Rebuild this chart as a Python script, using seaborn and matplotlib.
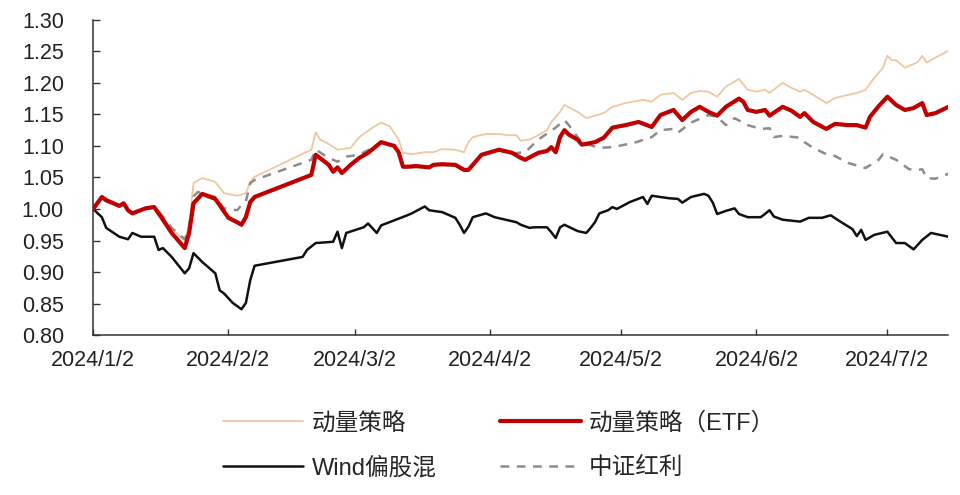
import matplotlib
matplotlib.use("Agg")
import matplotlib.pyplot as plt
import seaborn as sns
import pandas as pd

# 动量策略
momentum_dates = ["01-02", "01-04", "01-05", "01-08", "01-09", "01-10", "01-11", "01-14", "01-16", "01-18",
                  "01-20", "01-23", "01-24", "01-25", "01-27", "01-30", "02-01", "02-04", "02-06", "02-07",
                  "02-08", "02-21", "02-22", "02-23", "02-25", "02-27", "03-01", "03-03", "03-06", "03-08",
                  "03-10", "03-12", "03-13", "03-15", "03-18", "03-20", "03-22", "03-25", "03-27", "03-28",
                  "03-29", "04-01", "04-04", "04-06", "04-08", "04-09", "04-11", "04-13", "04-15", "04-16",
                  "04-18", "04-19", "04-22", "04-24", "04-26", "04-28", "04-30", "05-03", "05-07", "05-09",
                  "05-11", "05-14", "05-16", "05-18", "05-20", "05-22", "05-24", "05-26", "05-29", "05-31",
                  "06-02", "06-04", "06-05", "06-08", "06-10", "06-12", "06-13", "06-15", "06-18", "06-20",
                  "06-23", "06-25", "06-27", "06-29", "07-01", "07-02", "07-03", "07-04", "07-06", "07-09",
                  "07-10", "07-11", "07-13", "07-16"]
momentum_vals = [1.000, 1.019, 1.014, 1.005, 1.009, 0.999, 0.995, 1.002, 1.004, 0.987,
                 0.968, 0.950, 0.975, 1.041, 1.049, 1.043, 1.025, 1.021, 1.025, 1.043,
                 1.051, 1.094, 1.122, 1.110, 1.103, 1.094, 1.097, 1.114, 1.129, 1.137,
                 1.131, 1.110, 1.089, 1.087, 1.090, 1.090, 1.095, 1.094, 1.090, 1.106,
                 1.114, 1.119, 1.119, 1.117, 1.117, 1.108, 1.110, 1.117, 1.125, 1.138,
                 1.154, 1.165, 1.154, 1.144, 1.148, 1.152, 1.162, 1.168, 1.173, 1.170,
                 1.181, 1.184, 1.173, 1.184, 1.187, 1.186, 1.178, 1.194, 1.206, 1.189,
                 1.186, 1.189, 1.184, 1.200, 1.192, 1.186, 1.189, 1.181, 1.168, 1.176,
                 1.181, 1.184, 1.189, 1.208, 1.224, 1.243, 1.236, 1.236, 1.224, 1.233,
                 1.243, 1.232, 1.240, 1.251]

# 动量策略（ETF）
etf_dates = ["01-02", "01-04", "01-05", "01-08", "01-09", "01-10", "01-11", "01-14", "01-16", "01-18",
             "01-20", "01-23", "01-24", "01-25", "01-27", "01-30", "01-31", "02-02", "02-04", "02-05",
             "02-06", "02-07", "02-08", "02-21", "02-22", "02-25", "02-26", "02-27", "02-28", "03-01",
             "03-03", "03-05", "03-08", "03-11", "03-12", "03-13", "03-14", "03-16", "03-19", "03-20",
             "03-22", "03-25", "03-27", "03-28", "03-30", "03-31", "04-02", "04-04", "04-07", "04-09",
             "04-10", "04-13", "04-15", "04-16", "04-17", "04-18", "04-19", "04-20", "04-22", "04-23",
             "04-26", "04-28", "04-30", "05-03", "05-06", "05-09", "05-11", "05-14", "05-16", "05-18",
             "05-20", "05-22", "05-24", "05-26", "05-29", "05-30", "05-31", "06-02", "06-04", "06-05",
             "06-08", "06-10", "06-12", "06-13", "06-15", "06-18", "06-20", "06-23", "06-25", "06-27",
             "06-28", "06-30", "07-02", "07-04", "07-06", "07-08", "07-10", "07-11", "07-13", "07-16"]
etf_vals = [1.000, 1.019, 1.014, 1.005, 1.009, 0.998, 0.993, 1.001, 1.003, 0.983,
            0.962, 0.938, 0.962, 1.009, 1.024, 1.016, 1.006, 0.986, 0.979, 0.975,
            0.987, 1.011, 1.019, 1.054, 1.086, 1.070, 1.059, 1.066, 1.057, 1.070,
            1.081, 1.089, 1.106, 1.100, 1.090, 1.067, 1.067, 1.068, 1.066, 1.070,
            1.071, 1.070, 1.062, 1.062, 1.078, 1.086, 1.090, 1.094, 1.089, 1.081,
            1.078, 1.089, 1.092, 1.098, 1.090, 1.114, 1.125, 1.118, 1.110, 1.102,
            1.106, 1.113, 1.129, 1.133, 1.138, 1.130, 1.149, 1.157, 1.141, 1.154,
            1.162, 1.154, 1.148, 1.162, 1.175, 1.170, 1.157, 1.154, 1.157, 1.148,
            1.162, 1.156, 1.146, 1.152, 1.138, 1.127, 1.135, 1.133, 1.133, 1.129,
            1.146, 1.163, 1.178, 1.165, 1.157, 1.160, 1.168, 1.149, 1.152, 1.162]

# Wind偏股混
wind_dates = ["01-02", "01-04", "01-05", "01-08", "01-10", "01-11", "01-13", "01-16", "01-17", "01-18",
              "01-20", "01-23", "01-24", "01-25", "01-27", "01-30", "01-31", "02-01", "02-03", "02-05",
              "02-06", "02-07", "02-08", "02-19", "02-20", "02-22", "02-26", "02-27", "02-28", "02-29",
              "03-04", "03-05", "03-07", "03-08", "03-11", "03-14", "03-15", "03-18", "03-19", "03-22",
              "03-25", "03-26", "03-27", "03-28", "03-29", "04-01", "04-03", "04-08", "04-09", "04-11",
              "04-12", "04-15", "04-16", "04-17", "04-18", "04-19", "04-22", "04-24", "04-25", "04-26",
              "04-27", "04-29", "04-30", "05-01", "05-04", "05-07", "05-08", "05-09", "05-13", "05-15",
              "05-16", "05-18", "05-21", "05-22", "05-23", "05-24", "05-26", "05-28", "05-29", "05-31",
              "06-03", "06-05", "06-06", "06-08", "06-12", "06-14", "06-17", "06-19", "06-21", "06-24",
              "06-25", "06-26", "06-27", "06-29", "07-02", "07-04", "07-06", "07-08", "07-10", "07-12",
              "07-14", "07-16"]
wind_vals = [1.000, 0.987, 0.970, 0.956, 0.952, 0.962, 0.956, 0.956, 0.935, 0.938,
             0.924, 0.898, 0.906, 0.930, 0.916, 0.898, 0.871, 0.866, 0.851, 0.841,
             0.851, 0.887, 0.910, 0.924, 0.935, 0.946, 0.948, 0.964, 0.938, 0.962,
             0.971, 0.977, 0.962, 0.974, 0.982, 0.990, 0.993, 1.004, 0.998, 0.995,
             0.986, 0.975, 0.962, 0.972, 0.987, 0.993, 0.987, 0.979, 0.975, 0.970,
             0.971, 0.971, 0.963, 0.954, 0.971, 0.975, 0.965, 0.962, 0.970, 0.979,
             0.993, 0.998, 1.003, 1.000, 1.011, 1.019, 1.008, 1.021, 1.017, 1.016,
             1.010, 1.019, 1.024, 1.021, 1.010, 0.992, 0.997, 1.001, 0.992, 0.987,
             0.987, 0.998, 0.988, 0.983, 0.980, 0.986, 0.986, 0.990, 0.981, 0.968,
             0.957, 0.967, 0.951, 0.959, 0.964, 0.946, 0.946, 0.936, 0.951, 0.962,
             0.959, 0.956]

# 中证红利
dividend_dates = ["01-02", "01-04", "01-05", "01-08", "01-09", "01-10", "01-11", "01-14", "01-16", "01-18",
                  "01-20", "01-23", "01-24", "01-25", "01-26", "01-30", "02-01", "02-04", "02-05", "02-06",
                  "02-07", "02-08", "02-21", "02-22", "02-25", "02-27", "02-29", "03-03", "03-06", "03-08",
                  "03-11", "03-12", "03-13", "03-14", "03-16", "03-19", "03-20", "03-22", "03-25", "03-27",
                  "03-28", "03-30", "03-31", "04-02", "04-04", "04-07", "04-10", "04-13", "04-17", "04-19",
                  "04-20", "04-22", "04-23", "04-27", "04-30", "05-05", "05-09", "05-11", "05-14", "05-15",
                  "05-18", "05-22", "05-24", "05-26", "05-28", "05-31", "06-03", "06-05", "06-06", "06-08",
                  "06-12", "06-13", "06-15", "06-18", "06-20", "06-23", "06-26", "06-27", "06-30", "07-01",
                  "07-04", "07-07", "07-09", "07-10", "07-11", "07-13", "07-16"]
dividend_vals = [1.000, 1.017, 1.012, 1.004, 1.008, 0.998, 0.994, 1.002, 1.004, 0.988,
                 0.970, 0.952, 0.972, 1.020, 1.027, 1.019, 1.001, 0.998, 1.006, 1.012,
                 1.041, 1.046, 1.078, 1.094, 1.081, 1.075, 1.083, 1.086, 1.097, 1.106,
                 1.100, 1.088, 1.066, 1.066, 1.067, 1.065, 1.069, 1.070, 1.069, 1.061,
                 1.061, 1.077, 1.085, 1.089, 1.093, 1.088, 1.090, 1.110, 1.129, 1.141,
                 1.133, 1.114, 1.105, 1.097, 1.098, 1.105, 1.114, 1.125, 1.127, 1.121,
                 1.137, 1.149, 1.146, 1.133, 1.144, 1.133, 1.127, 1.128, 1.114, 1.116,
                 1.113, 1.106, 1.097, 1.087, 1.084, 1.073, 1.067, 1.065, 1.078, 1.087,
                 1.078, 1.063, 1.062, 1.063, 1.049, 1.048, 1.056]

x_ticks = ["2024-01-02", "2024-02-02", "2024-03-02", "2024-04-02", "2024-05-02", "2024-06-02", "2024-07-02"]
x_tick_labels = ["2024/1/2", "2024/2/2", "2024/3/2", "2024/4/2", "2024/5/2", "2024/6/2", "2024/7/2"]
y_ticks = [0.80, 0.85, 0.90, 0.95, 1.00, 1.05, 1.10, 1.15, 1.20, 1.25, 1.30]


def to_dates(mmdd):
    return pd.to_datetime(["2024-" + d for d in mmdd])


sns.set_style("ticks")
plt.rcParams['font.family'] = ['Liberation Sans', 'Noto Sans CJK SC', 'DejaVu Sans']

fig = plt.figure(figsize=(9.6, 4.95), dpi=100)
ax = fig.add_axes([0.097, 0.323, 0.891, 0.637])

# order is column-major for the 2-column legend
series = [
    ("动量策略", momentum_dates, momentum_vals, "#F2C6A0", 1.3, "-", 2),
    ("Wind偏股混", wind_dates, wind_vals, "#111111", 1.8, "-", 3),
    ("动量策略（ETF）", etf_dates, etf_vals, "#C00000", 3.0, "-", 5),
    ("中证红利", dividend_dates, dividend_vals, "#8C8C8C", 1.8, "--", 4),
]
for label, d, v, color, lw, ls, z in series:
    sns.lineplot(x=to_dates(d), y=v, ax=ax, color=color, linewidth=lw,
                 linestyle=ls, label=label, zorder=z)

for line in ax.get_lines():
    if line.get_linestyle() == "--":
        line.set_dashes((3.5, 3.0))

ax.set_xlim(pd.Timestamp("2024-01-02"), pd.Timestamp("2024-07-16"))
ax.set_ylim(0.80, 1.30)
ax.set_yticks(y_ticks)
ax.set_yticklabels([f"{t:.2f}" for t in y_ticks])
ax.set_xticks(pd.to_datetime(x_ticks))
ax.set_xticklabels(x_tick_labels)
ax.set_xlabel("")
ax.set_ylabel("")

sns.despine(ax=ax)
for s in ["left", "bottom"]:
    ax.spines[s].set_color("#333333")
    ax.spines[s].set_linewidth(1.1)
ax.tick_params(axis="y", direction="in", length=5, width=1.0, color="#333333",
               labelsize=15.5, pad=21, labelcolor="#222222")
ax.tick_params(axis="x", direction="in", length=4, width=1.0, color="#333333",
               labelsize=15.5, pad=11, labelcolor="#222222")

ax.get_legend().remove()
handles, labels = ax.get_legend_handles_labels()
fig.legend(handles, labels, loc="center", bbox_to_anchor=(0.52, 0.099), ncol=2,
           frameon=False, fontsize=17, handlelength=3.4, handletextpad=0.35,
           columnspacing=2.7, labelspacing=0.95)

fig.savefig("out.png", dpi=100)
